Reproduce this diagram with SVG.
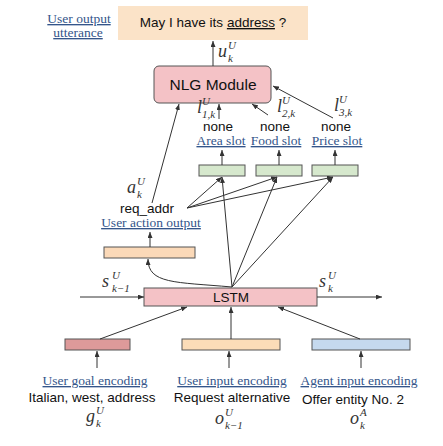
<svg xmlns="http://www.w3.org/2000/svg" width="443" height="446" viewBox="0 0 443 446">
<defs>
<marker id="ah" markerWidth="6" markerHeight="5" refX="6" refY="2.5" orient="auto" markerUnits="userSpaceOnUse"><path d="M0,0 L6,2.5 L0,5 z" fill="#333"/></marker>
<style>
.ln{stroke:#333;stroke-width:1;fill:none;marker-end:url(#ah)}
.sans{font-family:"Liberation Sans",Arial,sans-serif;font-size:13.5px;fill:#111}
.lbl{font-family:"Liberation Serif","Times New Roman",serif;font-size:13.5px;fill:#34558a;text-decoration:underline}
.m{font-family:"Liberation Serif","Times New Roman",serif;font-style:italic;font-size:18px;fill:#333}
.ms{font-size:11px}
.box{stroke:#555;stroke-width:1}
</style>
</defs>
<rect width="443" height="446" fill="#fff"/>

<g id="utterance">
<rect x="118" y="6" width="190" height="34" fill="#fbe3c8"/>
<text class="sans" x="213" y="27" text-anchor="middle">May I have its <tspan text-decoration="underline">address</tspan> ?</text>
<text class="lbl" x="79" y="23" text-anchor="middle">User output</text>
<text class="lbl" x="78" y="37" text-anchor="middle">utterance</text>
</g>

<g id="nlg">
<rect class="box" x="154" y="66" width="117" height="37" rx="5" fill="#f4c2c6"/>
<text class="sans" x="213" y="90" text-anchor="middle" style="font-size:15.5px">NLG Module</text>
</g>

<g id="slots">
<text class="sans" x="218" y="131" text-anchor="middle">none</text>
<text class="sans" x="275" y="131" text-anchor="middle">none</text>
<text class="sans" x="336" y="131" text-anchor="middle">none</text>
<text class="lbl" x="221" y="145" text-anchor="middle">Area slot</text>
<text class="lbl" x="276" y="145" text-anchor="middle">Food slot</text>
<text class="lbl" x="337" y="145" text-anchor="middle">Price slot</text>
</g>
<g id="slot1"><rect class="box" x="199" y="165" width="46" height="11" fill="#d6e8cd"/></g>
<g id="slot2"><rect class="box" x="256" y="165" width="46" height="11" fill="#d6e8cd"/></g>
<g id="slot3"><rect class="box" x="312" y="165" width="46" height="11" fill="#d6e8cd"/></g>

<g id="action">
<text class="sans" x="147" y="213" text-anchor="middle">req_addr</text>
<text class="lbl" x="151" y="227" text-anchor="middle">User action output</text>
<rect class="box" x="104" y="247" width="91" height="11" fill="#fbd9b8"/>
</g>

<g id="lstm">
<rect class="box" x="144" y="288" width="173" height="18" fill="#f4c2c6"/>
<text class="sans" x="231" y="302" text-anchor="middle">LSTM</text>
</g>

<g id="goal">
<rect class="box" x="65" y="339" width="65" height="11" fill="#dd9a9a"/>
<text class="lbl" x="95" y="385" text-anchor="middle">User goal encoding</text>
<text class="sans" x="92" y="402" text-anchor="middle">Italian, west, address</text>
</g>
<g id="userinput">
<rect class="box" x="182" y="339" width="98" height="11" fill="#fbdcb8"/>
<text class="lbl" x="232" y="385" text-anchor="middle">User input encoding</text>
<text class="sans" x="232" y="402" text-anchor="middle">Request alternative</text>
</g>
<g id="agentinput">
<rect class="box" x="312" y="339" width="98" height="11" fill="#c5d9ee"/>
<text class="lbl" x="359" y="385" text-anchor="middle">Agent input encoding</text>
<text class="sans" x="353" y="404" text-anchor="middle">Offer entity No. 2</text>
</g>

<g id="math">
<text class="m" x="218" y="57">u<tspan class="ms" x="228" y="49">U</tspan><tspan class="ms" x="228" y="62">k</tspan></text>
<text class="m" x="197" y="113">l<tspan class="ms" x="202" y="105">U</tspan><tspan class="ms" x="202" y="118">1,k</tspan></text>
<text class="m" x="277" y="112">l<tspan class="ms" x="282" y="104">U</tspan><tspan class="ms" x="282" y="117">2,k</tspan></text>
<text class="m" x="334" y="111">l<tspan class="ms" x="339" y="103">U</tspan><tspan class="ms" x="339" y="116">3,k</tspan></text>
<text class="m" x="127" y="193">a<tspan class="ms" x="137" y="185">U</tspan><tspan class="ms" x="137" y="198">k</tspan></text>
<text class="m" x="102" y="287">s<tspan class="ms" x="112" y="279">U</tspan><tspan class="ms" x="112" y="292">k−1</tspan></text>
<text class="m" x="319" y="287">s<tspan class="ms" x="328" y="279">U</tspan><tspan class="ms" x="328" y="292">k</tspan></text>
<text class="m" x="86" y="422">g<tspan class="ms" x="96" y="414">U</tspan><tspan class="ms" x="96" y="427">k</tspan></text>
<text class="m" x="215" y="424">o<tspan class="ms" x="225" y="416">U</tspan><tspan class="ms" x="225" y="429">k−1</tspan></text>
<text class="m" x="350" y="424">o<tspan class="ms" x="360" y="416">A</tspan><tspan class="ms" x="360" y="429">k</tspan></text>
</g>

<g id="connectors">
<line class="ln" x1="213" y1="66" x2="213" y2="41"/>
<line class="ln" x1="152" y1="203" x2="179" y2="104"/>
<line class="ln" x1="219" y1="119" x2="219" y2="104"/>
<line class="ln" x1="268" y1="115" x2="252" y2="104"/>
<line class="ln" x1="333" y1="118" x2="273" y2="86"/>
<line class="ln" x1="222" y1="165" x2="222" y2="150"/>
<line class="ln" x1="279" y1="165" x2="279" y2="150"/>
<line class="ln" x1="335" y1="165" x2="335" y2="150"/>
<line class="ln" x1="187" y1="208" x2="222" y2="177"/>
<line class="ln" x1="187" y1="208" x2="277" y2="177"/>
<line class="ln" x1="187" y1="208" x2="333" y2="177"/>
<line class="ln" x1="232" y1="287" x2="222" y2="177"/>
<line class="ln" x1="232" y1="287" x2="277" y2="177"/>
<line class="ln" x1="232" y1="287" x2="333" y2="177"/>
<path class="ln" d="M232,287 C175,282 148,284 148,259"/>
<line class="ln" x1="150" y1="247" x2="150" y2="232"/>
<line class="ln" x1="80" y1="297" x2="144" y2="297"/>
<line class="ln" x1="317" y1="297" x2="382" y2="297"/>
<line class="ln" x1="100" y1="339" x2="187" y2="307"/>
<line class="ln" x1="231" y1="339" x2="231" y2="307"/>
<line class="ln" x1="360" y1="339" x2="278" y2="307"/>
<line class="ln" x1="97" y1="368" x2="97" y2="351"/>
<line class="ln" x1="229" y1="368" x2="229" y2="351"/>
<line class="ln" x1="361" y1="368" x2="361" y2="351"/>
</g>
</svg>
